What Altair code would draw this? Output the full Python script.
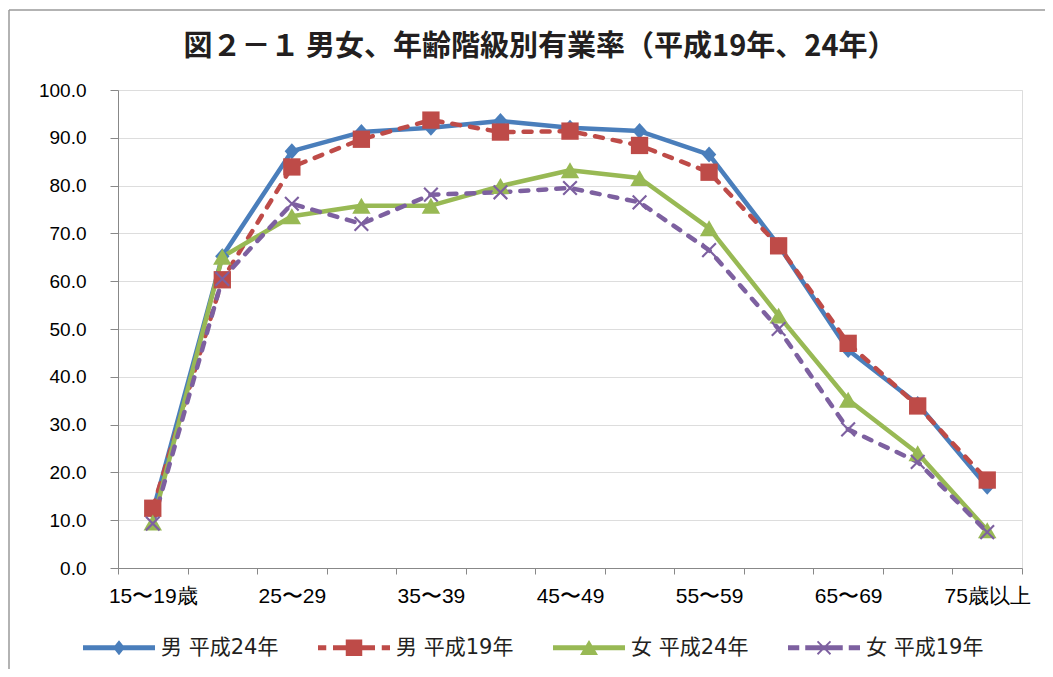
import json
import altair as alt
import pandas as pd

# ---- data ----
ages = ["15〜19歳", "20〜24", "25〜29", "30〜34", "35〜39", "40〜44", "45〜49",
        "50〜54", "55〜59", "60〜64", "65〜69", "70〜74", "75歳以上"]
series_names = ["男 平成24年", "男 平成19年", "女 平成24年", "女 平成19年"]
male_h24 = [11.8, 65.2, 87.2, 91.2, 92.1, 93.5, 92.1, 91.4, 86.5, 67.5, 45.6, 34.3, 17.0]
male_h19 = [12.5, 60.3, 83.9, 89.7, 93.7, 91.2, 91.4, 88.4, 82.8, 67.4, 47.0, 33.9, 18.4]
female_h24 = [9.5, 65.1, 73.6, 75.8, 75.8, 79.9, 83.2, 81.6, 71.1, 52.8, 35.2, 24.0, 7.9]
female_h19 = [9.3, 60.5, 76.2, 72.0, 78.1, 78.6, 79.5, 76.5, 66.5, 50.0, 29.0, 22.2, 7.5]
y_ticks = [0, 10, 20, 30, 40, 50, 60, 70, 80, 90, 100]
title_text = "図２－１ 男女、年齢階級別有業率（平成19年、24年）"

colors = ["#4a7ebb", "#be4b48", "#98b954", "#7d60a0"]
dashed = [False, True, False, True]

rows = []
for name, vals in zip(series_names, [male_h24, male_h19, female_h24, female_h19]):
    for i, (a, v) in enumerate(zip(ages, vals)):
        rows.append({"idx": i, "age": a, "series": name, "value": v})
df = pd.DataFrame(rows)


# ---- symbol paths ----
def rect(x0, x1, h):
    return f"M{x0},{-h}L{x1},{-h}L{x1},{h}L{x0},{h}Z"


def diamond(cx, w, h):
    return f"M{cx},{-h}L{cx + w},0L{cx},{h}L{cx - w},0Z"


def square(cx, s):
    return f"M{cx - s},{-s}L{cx + s},{-s}L{cx + s},{s}L{cx - s},{s}Z"


def triangle(cx, w, top, bot):
    return f"M{cx},{-top}L{cx + w},{bot}L{cx - w},{bot}Z"


def xmark(cx, a, b):
    p1 = f"M{cx - a},{-b}L{cx - b},{-a}L{cx + a},{b}L{cx + b},{a}Z"
    p2 = f"M{cx - a},{b}L{cx + b},{-a}L{cx + a},{-b}L{cx - b},{a}Z"
    return p1 + p2


marker_paths = [diamond(0, 0.9, 1), "square", "triangle-up", xmark(0, 1, 0.8)]
marker_sizes = [256, 300, 340, 230]

lh = 0.33
c = 3.8
legend_paths = [
    rect(-1, 8.6, lh) + diamond(c, 0.8, 1.0),
    rect(-1, 0.1, lh) + rect(1.0, 6.6, lh) + rect(7.5, 8.6, lh) + square(c, 1.1),
    rect(-1, 8.6, lh) + triangle(c, 1.2, 1.05, 0.95),
    rect(-1, 0.5, lh) + rect(1.3, 6.3, lh) + rect(7.1, 8.6, lh) + xmark(c, 0.95, 0.78),
]

# ---- encodings ----
W, H = 904, 478
cat_w = W / len(ages)
arr = json.dumps(ages, ensure_ascii=False)
label_expr = (f"(round(datum.value + 0.5) % 2 == 0 && round(datum.value + 0.5) <= 12) "
              f"? {arr}[round(datum.value + 0.5)] : ''")

x_enc = alt.X(
    "idx:Q",
    scale=alt.Scale(domain=[-0.5, len(ages) - 0.5], nice=False, zero=False),
    axis=alt.Axis(
        values=[i - 0.5 for i in range(len(ages) + 1)],
        labelExpr=label_expr,
        labelOffset=cat_w / 2,
        labelOverlap=False,
        labelFlush=False,
        labelBound=False,
        grid=False,
        tickSize=6,
        labelPadding=11,
        labelFontSize=21,
        title=None,
    ),
)
y_enc = alt.Y(
    "value:Q",
    scale=alt.Scale(domain=[0, 100], nice=False),
    axis=alt.Axis(
        values=y_ticks,
        format=".1f",
        grid=True,
        tickSize=8,
        labelPadding=24,
        labelFontSize=19,
        title=None,
    ),
)

layers = []
for name, col, dsh in zip(series_names, colors, dashed):
    kw = dict(strokeWidth=4.5, color=col, strokeCap="round", strokeJoin="round")
    if dsh:
        kw["strokeDash"] = [8, 10]
    layers.append(
        alt.Chart(df).transform_filter(alt.datum.series == name)
        .mark_line(**kw).encode(x=x_enc, y=y_enc, order="idx:Q")
    )
for name, col, shp, sz in zip(series_names, colors, marker_paths, marker_sizes):
    layers.append(
        alt.Chart(df).transform_filter(alt.datum.series == name)
        .mark_point(shape=shp, size=sz, filled=True, color=col, opacity=1, strokeWidth=0)
        .encode(x=x_enc, y=y_enc)
    )

leg = alt.Legend(
    orient="none",
    legendX=-38,
    legendY=547,
    direction="horizontal",
    title=None,
    symbolSize=225,
    symbolStrokeWidth=0,
    labelFont="DejaVu Sans, Noto Sans CJK JP",
    labelFontSize=21,
    labelColor="#231f20",
    labelOffset=60,
    labelLimit=400,
    columnPadding=36,
    padding=0,
)
legend_layer = alt.Chart(df).mark_point(filled=True, size=0, opacity=1, strokeWidth=0).encode(
    x=x_enc,
    y=y_enc,
    color=alt.Color("series:N", sort=series_names,
                    scale=alt.Scale(domain=series_names, range=colors), legend=leg),
    shape=alt.Shape("series:N", sort=series_names,
                    scale=alt.Scale(domain=series_names, range=legend_paths), legend=leg),
)
layers.append(legend_layer)

# chart-area frame and title (decoration)
deco_df = pd.DataFrame({"k": [0]})
layers.append(alt.Chart(deco_df).mark_rule(color="#9a9a9a", strokeWidth=1.5).encode(
    x=alt.value(-109), y=alt.value(-80), y2=alt.value(700)))
layers.append(alt.Chart(deco_df).mark_rule(color="#9a9a9a", strokeWidth=1.5).encode(
    x=alt.value(-109), x2=alt.value(1000), y=alt.value(-80)))
layers.append(alt.Chart(deco_df).mark_text(
    font="Noto Sans CJK JP", fontSize=29, fontWeight="bold", color="#231f20",
    align="center", baseline="middle",
).encode(x=alt.value(422), y=alt.value(-43), text=alt.value(title_text)))

chart = alt.layer(*layers).properties(
    width=W,
    height=H,
    autosize=alt.AutoSizeParams(type="none"),
    padding={"left": 110, "top": 82, "right": 23, "bottom": 101},
).configure_axis(
    labelFont="DejaVu Sans, Noto Sans CJK JP",
    labelColor="#231f20",
    domainColor="#8a8a8a",
    domainWidth=2.5,
    tickColor="#8a8a8a",
    tickWidth=2,
    gridColor="#8c8c8c",
    gridWidth=2,
).configure_view(
    stroke="transparent"
).configure(background="white")

chart.save("out.html", embed_options={"renderer": "svg", "actions": False})
